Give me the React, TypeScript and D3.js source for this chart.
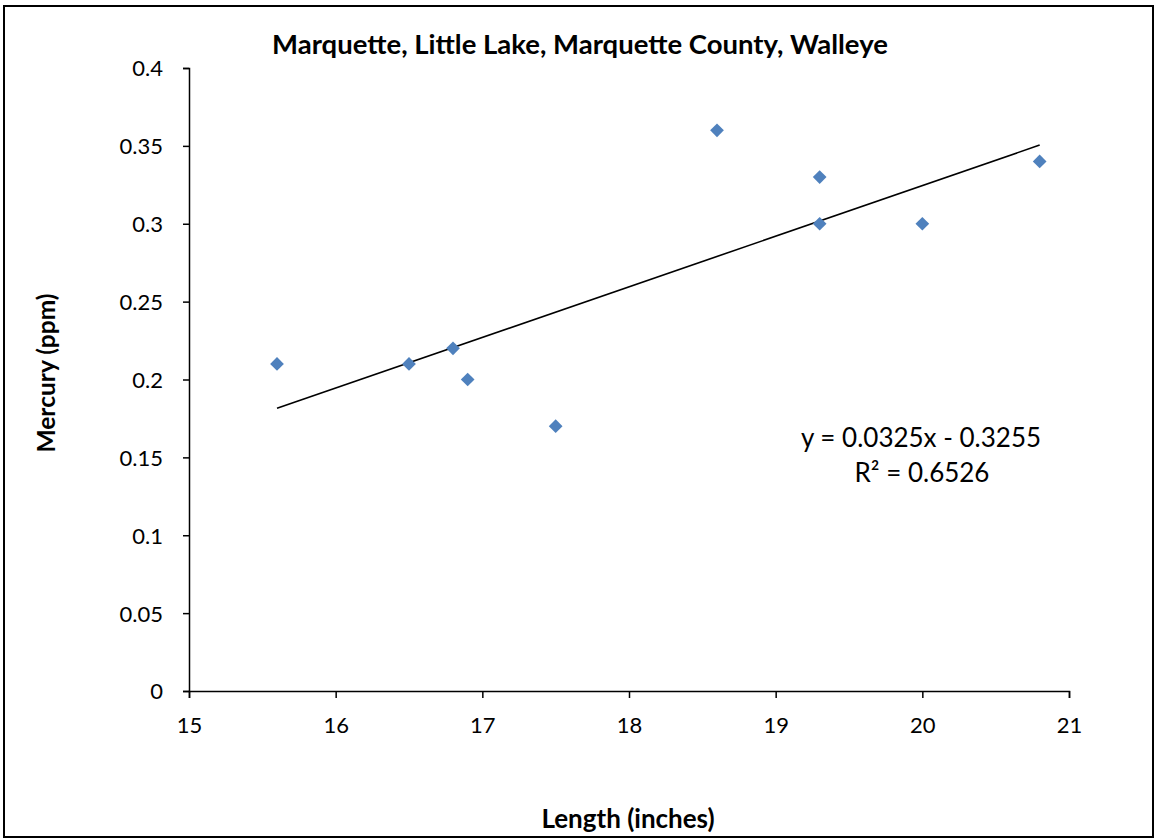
import React, { useEffect, useRef } from "react";
import * as d3 from "d3";

const lengths = [15.6, 16.5, 16.8, 16.9, 17.5, 18.6, 19.3, 19.3, 20.0, 20.8];
const mercury = [0.21, 0.21, 0.22, 0.2, 0.17, 0.36, 0.33, 0.3, 0.3, 0.34];
const xTicks = [15, 16, 17, 18, 19, 20, 21];
const yTicks = [0, 0.05, 0.1, 0.15, 0.2, 0.25, 0.3, 0.35, 0.4];
const trendSlope = 0.0325;
const trendIntercept = -0.3255;
const titleText = "Marquette, Little Lake, Marquette County, Walleye";
const xTitle = "Length (inches)";
const yTitle = "Mercury (ppm)";
const eqLine1 = "y = 0.0325x - 0.3255";
const eqLine2 = "R² = 0.6526";

const W = 1156;
const H = 840;
const FONT = "Lato, 'Open Sans', sans-serif";

export default function App() {
  const ref = useRef<SVGSVGElement>(null);

  useEffect(() => {
    const svg = d3.select(ref.current);
    svg.selectAll("*").remove();

    const left = 189, right = 1069, top = 68, bottom = 691;
    const x = d3.scaleLinear().domain([15, 21]).range([left, right]);
    const y = d3.scaleLinear().domain([0, 0.4]).range([bottom, top]);

    svg.append("rect").attr("x", 0).attr("y", 0).attr("width", W).attr("height", H).attr("fill", "#fff");
    svg.append("rect").attr("x", 4).attr("y", 6).attr("width", 1149).attr("height", 831)
      .attr("fill", "none").attr("stroke", "#000").attr("stroke-width", 2);

    const xAxis = d3.axisBottom(x).tickValues(xTicks).tickSize(7).tickSizeOuter(7).tickFormat(d3.format("d") as any);
    const gx = svg.append("g").attr("transform", `translate(0,${bottom})`).call(xAxis);
    gx.selectAll("text").attr("font-size", 22).attr("font-family", FONT).attr("fill", "#000")
      .attr("dy", null).attr("y", 42);
    gx.selectAll("line,path").attr("stroke", "#000").attr("stroke-width", 1.5);

    const yAxis = d3.axisLeft(y).tickValues(yTicks).tickSize(6).tickSizeOuter(6)
      .tickFormat((d: any) => String(+d.toFixed(2)));
    const gy = svg.append("g").attr("transform", `translate(${left},0)`).call(yAxis);
    gy.selectAll("text").attr("font-size", 22).attr("font-family", FONT).attr("fill", "#000").attr("x", -26)
      .attr("dy", "0.36em");
    gy.selectAll("line,path").attr("stroke", "#000").attr("stroke-width", 1.5);

    // trendline
    const x0 = d3.min(lengths)!, x1 = d3.max(lengths)!;
    svg.append("line")
      .attr("x1", x(x0)).attr("y1", y(trendSlope * x0 + trendIntercept))
      .attr("x2", x(x1)).attr("y2", y(trendSlope * x1 + trendIntercept))
      .attr("stroke", "#000").attr("stroke-width", 1.6);

    // points
    const diamond = d3.symbol().type(d3.symbolDiamond2).size(120);
    svg.append("g").selectAll("path").data(lengths.map((l, i) => [l, mercury[i]]))
      .join("path")
      .attr("d", diamond as any)
      .attr("transform", (d) => `translate(${x(d[0])},${y(d[1])})`)
      .attr("fill", "#4F81BD");

    svg.append("text").attr("x", 580).attr("y", 54).attr("text-anchor", "middle")
      .attr("font-family", FONT).attr("font-weight", "bold").attr("font-size", 27.5).text(titleText);

    svg.append("text").attr("x", 628).attr("y", 828).attr("text-anchor", "middle")
      .attr("font-family", FONT).attr("font-weight", "bold").attr("font-size", 26).text(xTitle);

    svg.append("text").attr("transform", `translate(55,373) rotate(-90)`).attr("text-anchor", "middle")
      .attr("font-family", FONT).attr("font-weight", "bold").attr("font-size", 24.5).text(yTitle);

    svg.append("text").attr("x", 921).attr("y", 447).attr("text-anchor", "middle")
      .attr("font-family", FONT).attr("font-size", 26).text(eqLine1);
    svg.append("text").attr("x", 922).attr("y", 482).attr("text-anchor", "middle")
      .attr("font-family", FONT).attr("font-size", 26).text(eqLine2);
  }, []);

  return (
    <svg ref={ref} width={W} height={H} style={{ position: "absolute", left: 0, top: 0, display: "block" }} />
  );
}
